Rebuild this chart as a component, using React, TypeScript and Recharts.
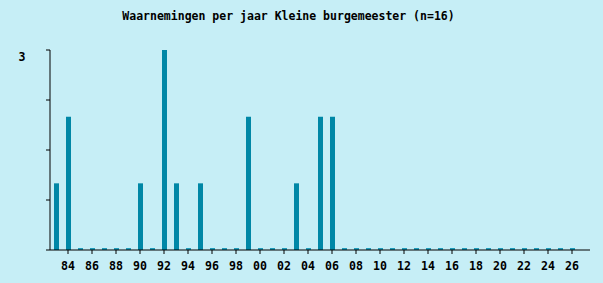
import { BarChart, Bar, XAxis, YAxis, Cell } from "recharts";

const years = [
  "83", "84", "85", "86", "87", "88", "89", "90", "91", "92", "93", "94", "95",
  "96", "97", "98", "99", "00", "01", "02", "03", "04", "05", "06", "07", "08",
  "09", "10", "11", "12", "13", "14", "15", "16", "17", "18", "19", "20", "21",
  "22", "23", "24", "25", "26", "27",
];
const counts: (number | null)[] = [
  1, 2, 0, 0, 0, 0, 0, 1, 0, 3, 1, 0, 1,
  0, 0, 0, 2, 0, 0, 0, 1, 0, 2, 2, 0, 0,
  0, 0, 0, 0, 0, 0, 0, 0, 0, 0, 0, 0, 0,
  0, 0, 0, 0, 0, null,
];
const xTicks = years.filter((y, i) => i < 44 && Number(y) % 2 === 0);
const yTicks = [0, 0.75, 1.5, 2.25, 3];

const font = "'DejaVu Sans Mono', monospace";

export default function App() {
  const data = years.map((y, i) => ({ year: y, count: counts[i] }));

  return (
    <div
      style={{
        position: "absolute",
        left: 0,
        top: 0,
        width: 603,
        height: 283,
        background: "#c6eef6",
      }}
    >
      <div
        style={{
          position: "absolute",
          top: 9,
          left: 0,
          width: 577,
          textAlign: "center",
          fontFamily: font,
          fontWeight: "bold",
          fontSize: 11.5,
          color: "#000",
        }}
      >
        Waarnemingen per jaar Kleine burgemeester (n=16)
      </div>
      <BarChart
        width={603}
        height={283}
        data={data}
        margin={{ top: 50, right: 13, bottom: 13, left: 0 }}
      >
        <XAxis
          dataKey="year"
          ticks={xTicks}
          interval={0}
          height={20}
          tickSize={4}
          tickMargin={8}
          stroke="#000"
          axisLine={{ stroke: "#000" }}
          tickLine={{ stroke: "#000" }}
          tick={{ fill: "#000", fontFamily: font, fontWeight: "bold", fontSize: 11.6 }}
        />
        <YAxis
          type="number"
          domain={[0, 3]}
          ticks={yTicks}
          width={50}
          tickSize={4}
          axisLine={{ stroke: "#000" }}
          tickLine={{ stroke: "#000" }}
          tick={(props: any) =>
            props.payload.value === 3 ? (
              <text
                x={22}
                y={props.y + 11}
                textAnchor="middle"
                fontFamily={font}
                fontWeight="bold"
                fontSize={11.6}
                fill="#000"
              >
                3
              </text>
            ) : (
              <g />
            )
          }
        />
        <Bar
          dataKey="count"
          barSize={5}
          isAnimationActive={false}
          minPointSize={(v: any) => (v === 0 ? 2 : 0)}
        >
          {data.map((d, i) => (
            <Cell key={i} fill={d.count === 0 ? "#1f9dbb" : "#0087a6"} />
          ))}
        </Bar>
      </BarChart>
    </div>
  );
}
